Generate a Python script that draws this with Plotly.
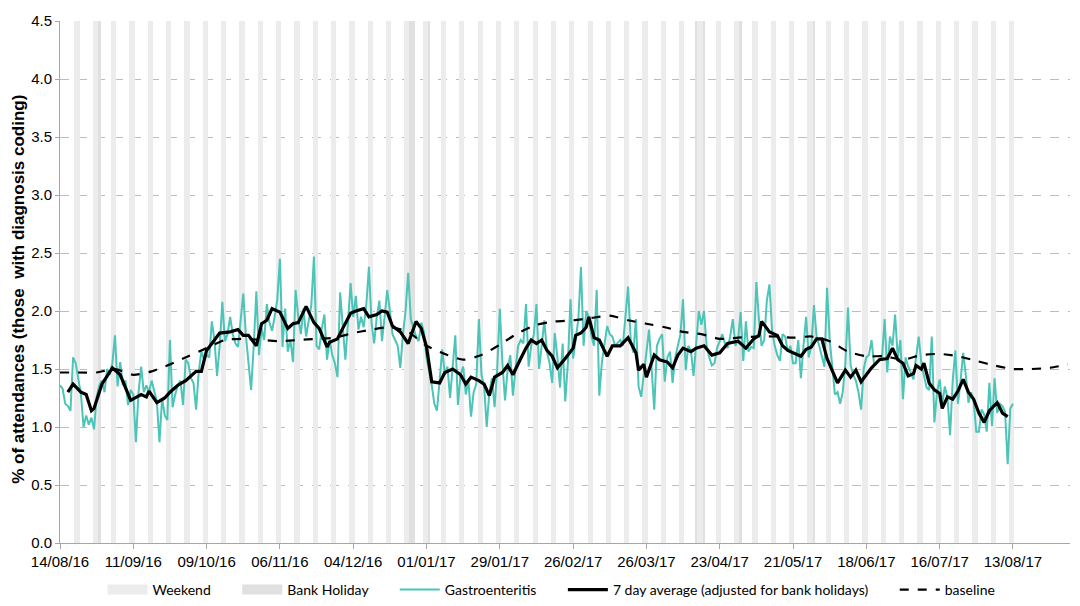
import pandas as pd
import plotly.graph_objects as go

START = "2016-08-14"

# Daily gastroenteritis % (14/08/16 .. 13/08/17), one row per week (Sun..Sat)
gastro = [
    1.36, 1.33, 1.20, 1.18, 1.14, 1.60, 1.55,
    1.42, 1.28, 1.00, 1.10, 1.02, 1.08, 0.98,
    1.26, 1.36, 1.40, 1.30, 1.50, 1.45, 1.55,
    1.79, 1.35, 1.56, 1.36, 1.40, 1.19, 1.32,
    1.28, 0.87, 1.30, 1.52, 1.30, 1.36, 1.30,
    1.40, 1.32, 1.22, 0.87, 1.25, 1.10, 1.06,
    1.75, 1.17, 1.28, 1.36, 1.40, 1.19, 1.58,
    1.55, 1.42, 1.38, 1.15, 1.48, 1.65, 1.58,
    1.62, 1.60, 1.91, 1.75, 1.44, 1.70, 2.08,
    1.74, 1.80, 1.95, 1.80, 1.72, 1.69, 1.90,
    2.15, 1.79, 1.55, 1.32, 1.70, 2.17, 1.62,
    1.85, 1.75, 2.06, 1.90, 1.83, 1.95, 2.10,
    2.45, 1.69, 2.02, 1.65, 1.75, 1.56, 2.18,
    1.95, 1.80, 2.02, 1.78, 1.90, 2.05, 2.47,
    1.70, 1.67, 1.85, 1.97, 1.58, 1.75, 1.62,
    1.55, 1.43, 2.16, 1.85, 1.58, 1.90, 2.24,
    1.95, 2.13, 1.84, 1.95, 1.86, 2.05, 2.38,
    1.90, 1.72, 1.95, 2.09, 1.74, 1.95, 2.18,
    2.00, 1.80, 1.75, 1.70, 1.51, 1.80, 2.00,
    2.33, 1.93, 1.85, 1.78, 1.74, 1.90, 1.82,
    1.60, 1.48, 1.36, 1.20, 1.14, 1.40, 1.67,
    1.45, 1.52, 1.25, 1.50, 1.79, 1.19, 1.45,
    1.52, 1.28, 1.40, 1.09, 1.30, 1.37, 1.93,
    1.45, 1.35, 1.00, 1.30, 1.42, 1.17, 1.50,
    2.02, 1.55, 1.23, 1.50, 1.62, 1.27, 1.50,
    1.70, 1.75, 1.72, 2.06, 1.52, 1.70, 1.80,
    2.06, 1.50, 1.70, 1.92, 1.65, 1.55, 1.38,
    1.81, 1.60, 1.34, 1.72, 1.22, 1.55, 2.10,
    1.59, 1.75, 1.93, 2.38, 1.70, 2.00, 1.95,
    1.78, 1.70, 2.18, 1.27, 1.56, 1.70, 1.87,
    1.80, 1.78, 1.70, 1.73, 1.75, 1.70, 1.93,
    2.21, 1.75, 1.64, 1.93, 1.35, 1.26, 1.45,
    1.60, 1.84, 1.50, 1.15, 1.70, 1.76, 1.80,
    1.39, 1.60, 1.65, 1.38, 1.60, 1.70, 1.80,
    2.10, 1.49, 1.70, 1.66, 1.44, 1.70, 2.00,
    1.88, 2.00, 1.70, 1.60, 1.53, 1.55, 1.68,
    1.75, 1.80, 1.72, 1.68, 1.78, 1.93, 1.70,
    1.75, 1.99, 1.57, 1.91, 1.65, 1.69, 1.68,
    2.25, 1.92, 1.70, 1.75, 2.09, 2.23, 1.83,
    1.70, 1.62, 1.57, 1.80, 1.78, 1.65, 1.70,
    1.55, 1.55, 1.75, 1.42, 1.70, 1.95, 1.60,
    1.70, 2.05, 1.78, 1.70, 1.60, 1.52, 2.20,
    1.75, 1.52, 1.28, 1.30, 1.20, 1.30, 1.55,
    2.03, 1.53, 1.45, 1.40, 1.30, 1.15, 1.50,
    1.60, 1.62, 1.75, 1.53, 1.55, 1.58, 1.60,
    1.93, 1.47, 1.78, 1.70, 1.97, 1.60, 1.75,
    1.24, 1.60, 1.52, 1.47, 1.41, 1.60, 1.78,
    1.55, 1.45, 1.34, 1.32, 1.78, 1.04, 1.30,
    1.41, 1.20, 1.35, 1.25, 0.93, 1.40, 1.66,
    1.20, 1.40, 1.64, 1.45, 1.21, 1.30, 1.22,
    0.96, 0.96, 1.15, 1.11, 0.96, 1.38, 1.01,
    1.42, 1.12, 1.20, 1.18, 1.13, 0.68, 1.16,
    1.20,
]

# 7 day average: day offset from START and value
avg_day = [3, 5, 8, 10, 12, 13, 15, 16, 20, 23, 27, 31, 33, 34, 37, 40, 42, 45, 48, 52,
           54, 56, 58, 61, 65, 68, 70, 72, 75, 77, 79, 81, 84, 87, 89, 91, 94, 97, 99, 102,
           103, 106, 108, 111, 113, 116, 118, 121, 123, 125, 127, 130, 133, 136, 138, 140, 142, 145, 147, 150,
           153, 155, 157, 160, 162, 164, 166, 169, 171, 173, 176, 178, 180, 182, 184, 186, 188, 190, 193, 196,
           197, 199, 201, 202, 204, 206, 209, 211, 214, 217, 220, 221, 223, 224, 227, 229, 232, 234, 236, 238,
           241, 243, 246, 249, 252, 255, 259, 262, 265, 267, 268, 271, 274, 276, 278, 280, 283, 285, 287, 289,
           291, 293, 295, 297, 300, 302, 304, 306, 308, 310, 313, 316, 318, 320, 322, 324, 326, 327, 329, 330,
           332, 334, 336, 337, 339, 341, 343, 345, 347, 349, 351, 353, 355, 358, 360, 362]
avg_val = [1.30, 1.37, 1.30, 1.28, 1.14, 1.16, 1.30, 1.37, 1.51, 1.45, 1.23, 1.28, 1.26, 1.31, 1.21, 1.25, 1.30, 1.36, 1.40, 1.48,
           1.48, 1.66, 1.72, 1.81, 1.82, 1.84, 1.79, 1.79, 1.70, 1.89, 1.92, 2.02, 1.99, 1.85, 1.89, 1.90, 2.04, 1.90, 1.85, 1.69,
           1.73, 1.76, 1.85, 1.98, 2.00, 2.02, 1.95, 1.97, 2.00, 1.99, 1.87, 1.82, 1.72, 1.91, 1.85, 1.69, 1.39, 1.38, 1.47, 1.50,
           1.45, 1.37, 1.43, 1.40, 1.37, 1.27, 1.43, 1.47, 1.53, 1.45, 1.59, 1.68, 1.75, 1.72, 1.75, 1.66, 1.61, 1.51, 1.59, 1.68,
           1.79, 1.81, 1.86, 1.95, 1.77, 1.75, 1.61, 1.70, 1.70, 1.77, 1.64, 1.49, 1.54, 1.43, 1.62, 1.58, 1.56, 1.51, 1.62, 1.68,
           1.65, 1.68, 1.70, 1.62, 1.64, 1.72, 1.74, 1.68, 1.76, 1.79, 1.91, 1.82, 1.79, 1.70, 1.66, 1.64, 1.61, 1.67, 1.69, 1.76,
           1.76, 1.59, 1.49, 1.38, 1.49, 1.43, 1.49, 1.39, 1.45, 1.51, 1.58, 1.59, 1.68, 1.58, 1.55, 1.44, 1.46, 1.53, 1.50, 1.55,
           1.38, 1.32, 1.29, 1.16, 1.26, 1.24, 1.31, 1.41, 1.30, 1.24, 1.12, 1.04, 1.14, 1.21, 1.12, 1.09]

# Baseline, weekly points (day offsets 0, 7, 14, ...)
base_step = 7
base_val = [1.47, 1.47, 1.47, 1.50, 1.45, 1.48, 1.54, 1.61, 1.68, 1.75,
            1.76, 1.75, 1.74, 1.75, 1.76, 1.77, 1.81, 1.84, 1.86, 1.82,
            1.70, 1.63, 1.58, 1.62, 1.71, 1.81, 1.88, 1.91, 1.92, 1.94,
            1.96, 1.92, 1.89, 1.86, 1.82, 1.80, 1.76, 1.77, 1.78, 1.78,
            1.77, 1.78, 1.74, 1.65, 1.61, 1.61, 1.58, 1.62, 1.63, 1.61,
            1.57, 1.53, 1.50, 1.50, 1.51, 1.54]

bank_holidays = ["2016-08-29", "2016-12-26", "2016-12-27", "2017-01-02",
                 "2017-04-14", "2017-04-17", "2017-05-01", "2017-05-29"]
shade_end = "2017-08-13"
shade_top = 4.5

WEEKEND_COLOR = "#ececec"
BH_COLOR = "#e0e0e0"

start = pd.Timestamp(START)
day = pd.Timedelta(days=1)
gastro_dates = pd.date_range(start, periods=len(gastro), freq="D")
avg_dates = [start + d * day for d in avg_day]
base_dates = [start + i * base_step * day for i in range(len(base_val))]

all_days = pd.date_range(start + day, shade_end, freq="D")
weekend_dates = [d for d in all_days if d.dayofweek >= 5]
bh_dates = pd.to_datetime(bank_holidays)

SP = "&nbsp;" * 6
DAY_MS = 86400000
fig = go.Figure()
# shading columns (legend shown via swatch traces below)
fig.add_trace(go.Bar(x=weekend_dates, y=[shade_top] * len(weekend_dates), width=DAY_MS,
                     marker=dict(color=WEEKEND_COLOR, line=dict(width=0)), showlegend=False, hoverinfo="skip"))
fig.add_trace(go.Bar(x=bh_dates, y=[shade_top] * len(bh_dates), width=DAY_MS,
                     marker=dict(color=BH_COLOR, line=dict(width=0)), showlegend=False, hoverinfo="skip"))
# legend swatches (wide rectangles like the original)
fig.add_trace(go.Scatter(x=[None], y=[None], mode="lines", name="Weekend" + SP,
                         line=dict(color=WEEKEND_COLOR, width=11)))
fig.add_trace(go.Scatter(x=[None], y=[None], mode="lines", name="Bank Holiday" + SP,
                         line=dict(color=BH_COLOR, width=11)))
fig.add_trace(go.Scatter(x=gastro_dates, y=gastro, mode="lines", name="Gastroenteritis" + SP,
                         line=dict(color="#4cc4b7", width=2)))
fig.add_trace(go.Scatter(x=avg_dates, y=avg_val, mode="lines", name="7 day average (adjusted for bank holidays)" + SP,
                         line=dict(color="black", width=3.2)))
fig.add_trace(go.Scatter(x=base_dates, y=base_val, mode="lines", name="baseline",
                         line=dict(color="black", width=2.2, dash="dash", shape="spline", smoothing=0.6)))

TF = "Liberation Sans"
x_end = start + pd.Timedelta(days=385.8)
fig.update_layout(
    width=1072, height=598,
    margin=dict(l=52, r=10, t=13, b=63, autoexpand=False),
    plot_bgcolor="white", paper_bgcolor="white",
    barmode="overlay", bargap=0,
    font=dict(family=TF, size=15, color="#000"),
    showlegend=True,
    legend=dict(orientation="h", x=0.507, xanchor="center", xref="container",
                y=-0.003, yanchor="bottom", yref="container",
                font=dict(family="Lato", size=14), itemwidth=40,
                bgcolor="rgba(0,0,0,0)"),
    xaxis=dict(range=[start, x_end], type="date", tick0=START, dtick=28 * DAY_MS,
               tickformat="%d/%m/%y", ticks="outside", ticklen=5, tickcolor="#a6a6a6",
               showline=True, linecolor="#a6a6a6", linewidth=1, showgrid=False, zeroline=False,
               automargin=False, tickfont=dict(family=TF, size=15)),
    yaxis=dict(range=[0, 4.5], dtick=0.5, tickformat=".1f", showline=True, linecolor="#a6a6a6",
               linewidth=1, ticks="outside", ticklen=4, tickcolor="#a6a6a6",
               showgrid=True, gridcolor="#bdbdbd", griddash="dash", gridwidth=1, zeroline=False,
               automargin=False, tickfont=dict(family=TF, size=15)),
    annotations=[dict(text="<b>% of attendances (those  with diagnosis coding)</b>", textangle=-90,
                      xref="paper", yref="paper", x=-0.0406, y=0.487, xanchor="center", yanchor="middle",
                      borderpad=0, showarrow=False, font=dict(size=17, family=TF))],
)

fig.write_html("out.html")
